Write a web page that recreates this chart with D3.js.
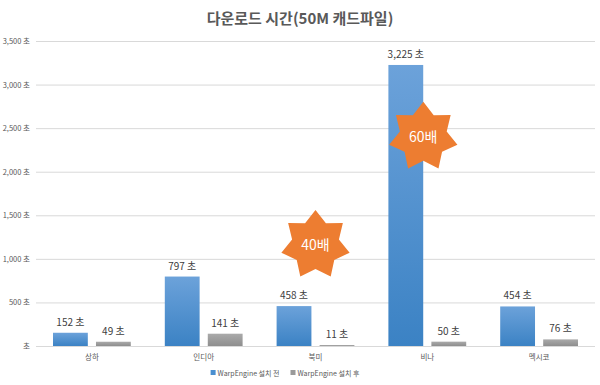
<!DOCTYPE html>
<html>
<head>
<meta charset="utf-8">
<script src="https://cdn.jsdelivr.net/npm/d3@7"></script>
<style>
  body { margin: 0; background: #fff; }
  text { font-family: "Noto Sans CJK KR", "Noto Sans", sans-serif; }
</style>
</head>
<body>
<div id="chart"></div>
<script>
// data
var categories = ["상하", "인디아", "북미", "비나", "멕시코"];
var seriesNames = ["WarpEngine 설치 전", "WarpEngine 설치 후"];
var before = [152, 797, 458, 3225, 454];
var after = [49, 141, 11, 50, 76];
var yTicks = [0, 500, 1000, 1500, 2000, 2500, 3000, 3500];
// callouts: category, value level, text
var starCats = ["북미", "비나"];
var starLevels = [1160, 2400];
var starTexts = ["40배", "60배"];

const width = 600, height = 385;
const margin = {top: 41, right: 5, bottom: 39, left: 36};

const svg = d3.select("#chart")
  .append("svg")
  .attr("width", width)
  .attr("height", height);

const defs = svg.append("defs");
function grad(id, top, bottom) {
  var g = defs.append("linearGradient").attr("id", id)
    .attr("x1", 0).attr("y1", 0).attr("x2", 0).attr("y2", 1);
  g.append("stop").attr("offset", "0%").attr("stop-color", top);
  g.append("stop").attr("offset", "100%").attr("stop-color", bottom);
}
grad("gBlue", "#6ca2da", "#3b82c4");
grad("gGray", "#aaaaaa", "#8e8e8e");
var fills = ["url(#gBlue)", "url(#gGray)"];
var legendColors = ["#4a8fd0", "#9a9a9a"];

// title
svg.append("text")
  .attr("x", width / 2)
  .attr("y", 24)
  .attr("text-anchor", "middle")
  .style("font-size", "15px")
  .style("font-weight", "bold")
  .style("fill", "#595959")
  .text("다운로드 시간(50M 캐드파일)");

const y = d3.scaleLinear()
  .domain([0, 3500])
  .range([height - margin.bottom, margin.top]);

const x0 = d3.scaleBand()
  .domain(categories)
  .range([margin.left, width - margin.right])
  .padding(0);

const x1 = d3.scaleBand()
  .domain([0, 1])
  .range([17, x0.bandwidth() - 17])
  .paddingInner(0.19);

// grid
svg.append("g")
  .selectAll("line")
  .data(yTicks)
  .join("line")
  .attr("x1", margin.left)
  .attr("x2", width - margin.right)
  .attr("y1", d => y(d) + 0.5)
  .attr("y2", d => y(d) + 0.5)
  .attr("stroke", "#d9d9d9")
  .attr("stroke-width", 1);

// y labels
svg.append("g")
  .selectAll("text")
  .data(yTicks)
  .join("text")
  .attr("x", 30)
  .attr("y", d => y(d) + 3)
  .attr("text-anchor", "end")
  .style("font-size", "7.5px")
  .style("fill", "#595959")
  .text(d => d === 0 ? "초" : d3.format(",")(d) + " 초");

// bars
var series = [before, after];
series.forEach(function (vals, si) {
  var g = svg.append("g");
  g.selectAll("rect")
    .data(vals)
    .join("rect")
    .attr("x", (d, i) => x0(categories[i]) + x1(si))
    .attr("y", d => y(d))
    .attr("width", x1.bandwidth())
    .attr("height", d => y(0) - y(d))
    .attr("fill", fills[si]);

  g.selectAll("text")
    .data(vals)
    .join("text")
    .attr("x", (d, i) => x0(categories[i]) + x1(si) + x1.bandwidth() / 2)
    .attr("y", d => y(d) - 7)
    .attr("text-anchor", "middle")
    .style("font-size", "10px")
    .style("fill", "#404040")
    .text(d => d3.format(",")(d) + " 초");
});

// x labels
svg.append("g")
  .selectAll("text")
  .data(categories)
  .join("text")
  .attr("x", d => x0(d) + x0.bandwidth() / 2)
  .attr("y", 360)
  .attr("text-anchor", "middle")
  .style("font-size", "7.5px")
  .style("fill", "#595959")
  .text(d => d);

// legend, centred, items chained by measured width
var legend = svg.append("g");
var lx = 0;
seriesNames.forEach(function (name, i) {
  legend.append("rect")
    .attr("x", lx)
    .attr("y", 370)
    .attr("width", 5)
    .attr("height", 5)
    .attr("fill", legendColors[i]);
  var t = legend.append("text")
    .attr("x", lx + 7)
    .attr("y", 375.5)
    .style("font-size", "7px")
    .style("fill", "#595959")
    .text(name);
  lx += 7 + t.node().getComputedTextLength() + 11;
});
var lw = lx - 11;
legend.attr("transform", `translate(${285 - lw / 2}, 0)`);

// stars
function starPath(cx, cy, rOut, rIn, n) {
  var pts = [];
  for (var i = 0; i < n * 2; i++) {
    var r = i % 2 === 0 ? rOut : rIn;
    var a = -Math.PI / 2 + i * Math.PI / n;
    pts.push([cx + r * Math.cos(a), cy + r * Math.sin(a)]);
  }
  return "M" + pts.join("L") + "Z";
}
starCats.forEach(function (c, i) {
  var cx = x0(c) + x0.bandwidth() / 2 - (i === 1 ? 4 : 0);
  var cy = y(starLevels[i]);
  svg.append("path")
    .attr("d", starPath(cx, cy, 35, 24, 7))
    .attr("fill", "#ed7d31");
  svg.append("text")
    .attr("x", cx)
    .attr("y", cy + 5)
    .attr("text-anchor", "middle")
    .style("font-size", "14px")
    .style("fill", "#fff")
    .text(starTexts[i]);
});
</script>
</body>
</html>
